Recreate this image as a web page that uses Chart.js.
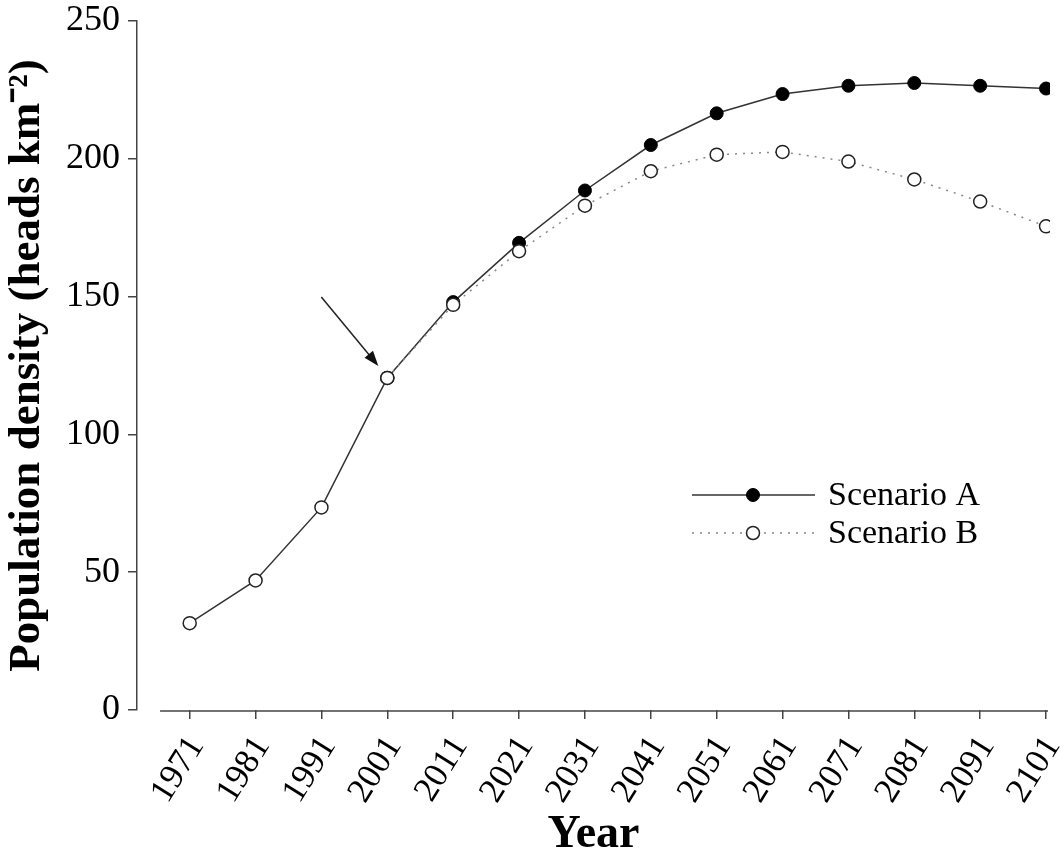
<!DOCTYPE html>
<html>
<head>
<meta charset="utf-8">
<script src="https://cdn.jsdelivr.net/npm/chart.js@4.4.0/dist/chart.umd.min.js"></script>
<style>
	html, body { margin: 0; padding: 0; background: #fff; }
	#wrap { width: 1061px; height: 854px; }
</style>
</head>
<body>
<div id="wrap"><canvas id="popChart" width="1061" height="854"></canvas></div>
<script>
// Data
const years = [1971, 1981, 1991, 2001, 2011, 2021, 2031, 2041, 2051, 2061, 2071, 2081, 2091, 2101];
const observedYears = [1971, 1981, 1991, 2001];
const observed = [31.5, 47, 73.5, 120.5];
const projYears = [2001, 2011, 2021, 2031, 2041, 2051, 2061, 2071, 2081, 2091, 2101];
const scenarioA = [120.5, 148, 169.5, 188.5, 205, 216.5, 223.5, 226.5, 227.5, 226.5, 225.5];
const scenarioB = [120.5, 147, 166.5, 183, 195.5, 201.5, 202.5, 199, 192.5, 184.5, 175.5];
const yTicks = [0, 50, 100, 150, 200, 250];
const legendLabels = ['Scenario A', 'Scenario B'];

const serif = "'Liberation Serif', 'Times New Roman', serif";
const toPoints = (xs, ys) => xs.map((x, i) => ({ x: x, y: ys[i] }));

// Extra drawing: offset x axis line, arrow and legend with line-through markers
const extras = {
	id: 'extras',
	afterDraw(chart) {
		const ctx = chart.ctx;
		const xs = chart.scales.x;
		const area = chart.chartArea;
		ctx.save();

		// x axis line (starts a bit right of the y axis)
		ctx.strokeStyle = '#444';
		ctx.lineWidth = 1.5;
		ctx.beginPath();
		ctx.moveTo(xs.getPixelForValue(1966.5), area.bottom + 1);
		ctx.lineTo(xs.getPixelForValue(2101.3), area.bottom + 1);
		ctx.stroke();

		// arrow pointing at the 2001 value
		const p = chart.getDatasetMeta(0).data[3];
		const sx = p.x - 66, sy = p.y - 81;
		const ex = p.x - 9, ey = p.y - 12;
		const ang = Math.atan2(ey - sy, ex - sx);
		ctx.strokeStyle = '#222';
		ctx.fillStyle = '#111';
		ctx.lineWidth = 1.5;
		ctx.beginPath();
		ctx.moveTo(sx, sy);
		ctx.lineTo(ex - 10 * Math.cos(ang), ey - 10 * Math.sin(ang));
		ctx.stroke();
		ctx.beginPath();
		ctx.moveTo(ex, ey);
		ctx.lineTo(ex - 15 * Math.cos(ang) + 5.5 * Math.sin(ang), ey - 15 * Math.sin(ang) - 5.5 * Math.cos(ang));
		ctx.lineTo(ex - 15 * Math.cos(ang) - 5.5 * Math.sin(ang), ey - 15 * Math.sin(ang) + 5.5 * Math.cos(ang));
		ctx.closePath();
		ctx.fill();

		// legend
		const items = [chart.data.datasets[2], chart.data.datasets[1]];
		items.forEach((ds, i) => {
			const y = 495 + i * 38;
			ctx.strokeStyle = ds.borderColor;
			ctx.lineWidth = ds.borderWidth;
			ctx.setLineDash(ds.borderDash || []);
			ctx.beginPath();
			ctx.moveTo(692, y);
			ctx.lineTo(815, y);
			ctx.stroke();
			ctx.setLineDash([]);
			ctx.beginPath();
			ctx.arc(753, y, ds.pointRadius, 0, Math.PI * 2);
			ctx.fillStyle = ds.pointBackgroundColor;
			ctx.fill();
			ctx.strokeStyle = ds.pointBorderColor;
			ctx.lineWidth = ds.pointBorderWidth;
			ctx.stroke();
			ctx.fillStyle = '#000';
			ctx.font = '34px ' + serif;
			ctx.textBaseline = 'middle';
			ctx.textAlign = 'left';
			ctx.fillText(legendLabels[i], 828, y + 1);
		});
		ctx.restore();
	}
};

document.addEventListener('DOMContentLoaded', function () {
	const ctx = document.getElementById('popChart').getContext('2d');
	new Chart(ctx, {
		type: 'line',
		data: {
			datasets: [
				{
					label: 'Observed',
					data: toPoints(observedYears, observed),
					borderColor: '#333',
					borderWidth: 1.5,
					pointRadius: 6.5,
					pointBackgroundColor: '#fff',
					pointBorderColor: '#222',
					pointBorderWidth: 1.5,
					order: 0,
				},
				{
					label: legendLabels[1],
					data: toPoints(projYears, scenarioB),
					borderColor: '#888',
					borderWidth: 1.5,
					borderDash: [2, 6],
					pointRadius: 6.5,
					pointBackgroundColor: '#fff',
					pointBorderColor: '#222',
					pointBorderWidth: 1.5,
					order: 1,
				},
				{
					label: legendLabels[0],
					data: toPoints(projYears, scenarioA),
					borderColor: '#333',
					borderWidth: 1.5,
					pointRadius: 6.5,
					pointBackgroundColor: '#000',
					pointBorderColor: '#000',
					pointBorderWidth: 1,
					order: 2,
				},
			],
		},
		options: {
			responsive: false,
			animation: false,
			devicePixelRatio: 1,
			layout: { padding: { top: 21, right: 11, left: 0, bottom: 0 } },
			plugins: {
				legend: { display: false },
				tooltip: { enabled: false },
			},
			scales: {
				x: {
					type: 'linear',
					min: 1963,
					max: 2101.6,
					afterBuildTicks: (s) => { s.ticks = years.map((v) => ({ value: v })); },
					afterFit: (s) => {
						s.height = 144;
						s.paddingLeft = 0;
						s.paddingRight = 0;
					},
					ticks: {
						autoSkip: false,
						minRotation: 58,
						maxRotation: 58,
						padding: 10,
						labelOffset: 7,
						color: '#000',
						font: { family: serif, size: 35 },
						callback: (v) => String(v),
					},
					grid: { drawOnChartArea: false, drawTicks: true, tickLength: 9, color: '#444', lineWidth: 1.5 },
					border: { display: false },
					title: {
						display: true,
						text: 'Year',
						color: '#000',
						font: { family: serif, size: 46, weight: 'bold' },
						padding: { top: 0, bottom: -9 },
					},
				},
				y: {
					min: 0,
					max: 250,
					afterBuildTicks: (s) => { s.ticks = yTicks.map((v) => ({ value: v })); },
					afterFit: (s) => {
						s.width = 137;
						s.paddingTop = 0;
						s.paddingBottom = 0;
					},
					ticks: {
						padding: 8,
						color: '#000',
						font: { family: serif, size: 36 },
					},
					grid: { drawOnChartArea: false, drawTicks: true, tickLength: 9, color: '#444', lineWidth: 1.5 },
					border: { display: true, color: '#444', width: 1.5 },
					title: {
						display: true,
						text: 'Population density (heads km\u207B\u00B2)',
						color: '#000',
						font: { family: serif, size: 45, weight: 'bold' },
						padding: { top: 0, bottom: 0 },
					},
				},
			},
		},
		plugins: [extras],
	});
});
</script>
</body>
</html>
